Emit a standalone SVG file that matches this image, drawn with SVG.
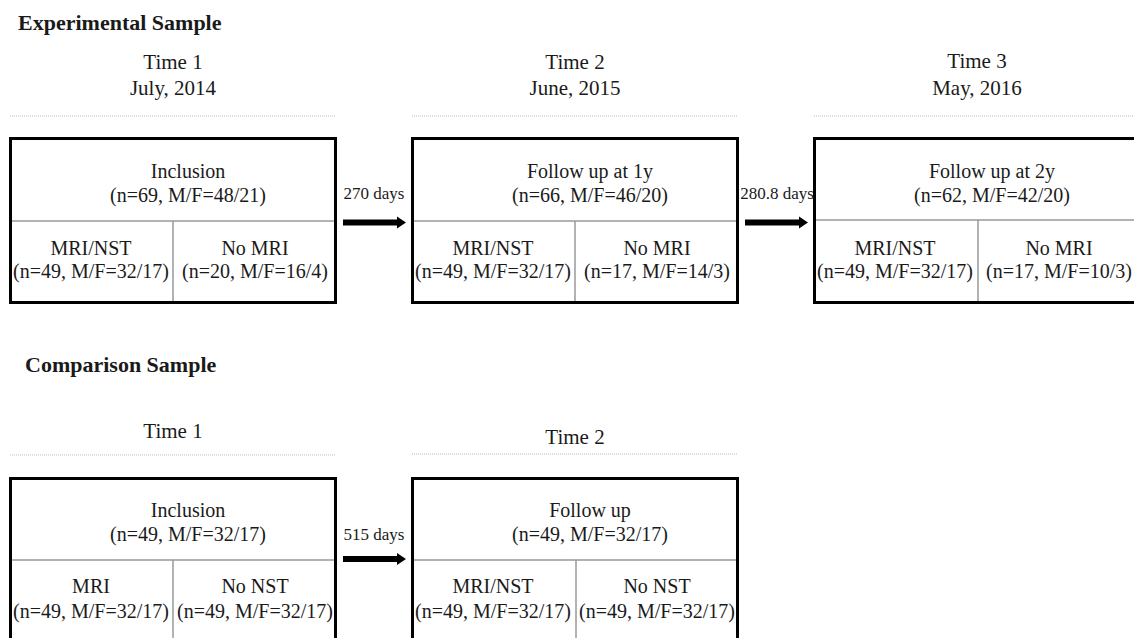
<svg xmlns="http://www.w3.org/2000/svg" width="1134" height="638" viewBox="0 0 1134 638">
<defs>
<style>
text{font-family:"Liberation Serif","Times New Roman",serif;fill:#1a1a1a}
.h{font-size:22px;font-weight:bold}
.t{font-size:21px;text-anchor:middle}
.b{font-size:20px;text-anchor:middle}
.d{font-size:17px;text-anchor:middle}
.box{fill:#fff;stroke:#000;stroke-width:3}
.div{stroke:#999;stroke-width:1.5;fill:none}
.dot{stroke:#bbb;stroke-width:1;stroke-dasharray:1 1;fill:none}
.arr{fill:#000}
</style>
<polygon id="arrow" points="0,-3 54,-3 54,-6 63,0 54,6 54,3 0,3"/>
</defs>
<rect width="1134" height="638" fill="#fff"/>

<text class="h" x="18" y="30">Experimental Sample</text>
<text class="h" x="25" y="372">Comparison Sample</text>

<g id="headers">
<text class="t" x="173" y="69">Time 1</text>
<text class="t" x="173" y="95">July, 2014</text>
<line class="dot" x1="10" y1="116" x2="336" y2="116"/>
<text class="t" x="575" y="69">Time 2</text>
<text class="t" x="575" y="95">June, 2015</text>
<line class="dot" x1="412" y1="116" x2="738" y2="116"/>
<text class="t" x="977" y="68">Time 3</text>
<text class="t" x="977" y="95">May, 2016</text>
<line class="dot" x1="814" y1="116" x2="1134" y2="116"/>
<text class="t" x="173" y="438">Time 1</text>
<line class="dot" x1="10" y1="455" x2="336" y2="455"/>
<text class="t" x="575" y="444">Time 2</text>
<line class="dot" x1="412" y1="454" x2="738" y2="454"/>
</g>

<g id="exp-t1">
<rect class="box" x="10.5" y="138.5" width="325" height="164"/>
<line class="div" x1="12" y1="221" x2="334" y2="221"/>
<line class="div" x1="173" y1="221" x2="173" y2="301"/>
<text class="b" x="188" y="178">Inclusion</text>
<text class="b" x="188" y="202">(n=69, M/F=48/21)</text>
<text class="b" x="91" y="255">MRI/NST</text>
<text class="b" x="91" y="278">(n=49, M/F=32/17)</text>
<text class="b" x="255" y="255">No MRI</text>
<text class="b" x="255" y="278">(n=20, M/F=16/4)</text>
</g>

<g id="exp-t2">
<rect class="box" x="412.5" y="138.5" width="325" height="164"/>
<line class="div" x1="414" y1="221" x2="736" y2="221"/>
<line class="div" x1="575" y1="221" x2="575" y2="301"/>
<text class="b" x="590" y="178">Follow up at 1y</text>
<text class="b" x="590" y="202">(n=66, M/F=46/20)</text>
<text class="b" x="493" y="255">MRI/NST</text>
<text class="b" x="493" y="278">(n=49, M/F=32/17)</text>
<text class="b" x="657" y="255">No MRI</text>
<text class="b" x="657" y="278">(n=17, M/F=14/3)</text>
</g>

<g id="exp-t3">
<rect class="box" x="814.5" y="138.5" width="325" height="164"/>
<line class="div" x1="816" y1="220" x2="1138" y2="220"/>
<line class="div" x1="978" y1="220" x2="978" y2="301"/>
<text class="b" x="992" y="178">Follow up at 2y</text>
<text class="b" x="992" y="202">(n=62, M/F=42/20)</text>
<text class="b" x="895" y="255">MRI/NST</text>
<text class="b" x="895" y="278">(n=49, M/F=32/17)</text>
<text class="b" x="1059" y="255">No MRI</text>
<text class="b" x="1059" y="278">(n=17, M/F=10/3)</text>
</g>

<g id="cmp-t1">
<rect class="box" x="10.5" y="478.5" width="325" height="170"/>
<line class="div" x1="12" y1="560" x2="334" y2="560"/>
<line class="div" x1="173" y1="560" x2="173" y2="640"/>
<text class="b" x="188" y="517">Inclusion</text>
<text class="b" x="188" y="541">(n=49, M/F=32/17)</text>
<text class="b" x="91" y="593">MRI</text>
<text class="b" x="91" y="618">(n=49, M/F=32/17)</text>
<text class="b" x="255" y="593">No NST</text>
<text class="b" x="255" y="618">(n=49, M/F=32/17)</text>
</g>

<g id="cmp-t2">
<rect class="box" x="412.5" y="478.5" width="325" height="170"/>
<line class="div" x1="414" y1="560" x2="736" y2="560"/>
<line class="div" x1="576" y1="560" x2="576" y2="640"/>
<text class="b" x="590" y="517">Follow up</text>
<text class="b" x="590" y="541">(n=49, M/F=32/17)</text>
<text class="b" x="493" y="593">MRI/NST</text>
<text class="b" x="493" y="618">(n=49, M/F=32/17)</text>
<text class="b" x="657" y="593">No NST</text>
<text class="b" x="657" y="618">(n=49, M/F=32/17)</text>
</g>

<g id="connectors">
<use href="#arrow" class="arr" x="343" y="222.5"/>
<text class="d" x="374" y="199">270 days</text>
<use href="#arrow" class="arr" x="745" y="222.5"/>
<text class="d" x="777" y="199">280.8 days</text>
<use href="#arrow" class="arr" x="343" y="559"/>
<text class="d" x="374" y="540">515 days</text>
</g>
</svg>
